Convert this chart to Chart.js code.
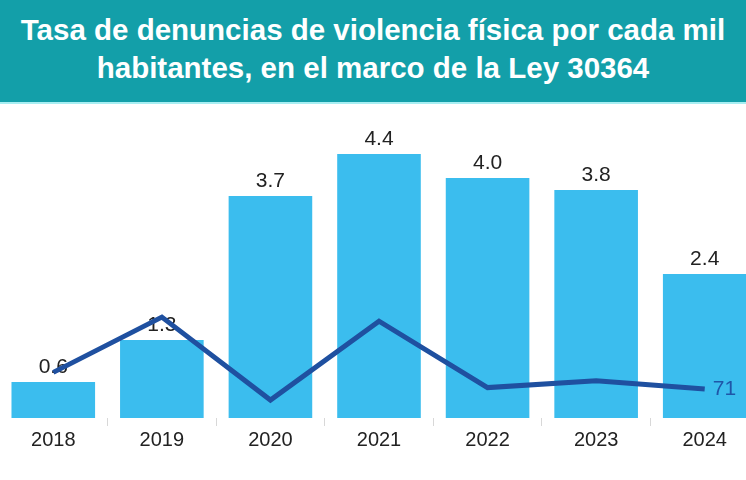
<!DOCTYPE html>
<html>
<head>
<meta charset="utf-8">
<script src="https://cdn.jsdelivr.net/npm/chart.js@4"></script>
<style>
	html, body { margin: 0; padding: 0; width: 746px; height: 480px; overflow: hidden; background: #fff; }
	.banner {
		position: absolute; left: 0; top: 0; width: 746px; height: 104px;
		background: #139fa9; border-bottom: 2px solid #a8eef2;
		color: #fff; font-family: "Liberation Sans", Arial, sans-serif; font-weight: bold;
		font-size: 29.5px; line-height: 38px; text-align: center;
		box-sizing: border-box; padding-top: 11px;
	}
	.wrap { position: absolute; left: -1px; top: 108px; width: 760px; height: 372px; }
</style>
</head>
<body>
<div class="banner">Tasa de denuncias de violencia física por cada mil<br>habitantes, en el marco de la Ley 30364</div>
<div class="wrap"><canvas id="mainChart" width="760" height="372"></canvas></div>
<script>
// 데이터
const years = ['2018', '2019', '2020', '2021', '2022', '2023', '2024'];
const tasa = [0.6, 1.3, 3.7, 4.4, 4.0, 3.8, 2.4];
const linea = [83, 123, 63, 120, 72, 77, 71];

/**
 * 막대 위 값 표시 + 선의 마지막 값 표시
 */
const labelPlugin = {
	id: 'labelPlugin',
	afterDatasetDraw: function(chart, args) {
		const ctx = chart.ctx;
		const meta = args.meta;
		ctx.save();
		ctx.font = '21px "Liberation Sans", Arial, sans-serif';
		if (meta.type === 'bar') {
			ctx.fillStyle = '#222';
			ctx.textAlign = 'center';
			ctx.textBaseline = 'alphabetic';
			meta.data.forEach(function(bar, i) {
				ctx.fillText(tasa[i].toFixed(1), bar.x, bar.y - 9);
			});
		} else {
			const last = meta.data[meta.data.length - 1];
			ctx.fillStyle = '#1f56a8';
			ctx.textAlign = 'left';
			ctx.textBaseline = 'middle';
			ctx.fillText(String(linea[linea.length - 1]), last.x + 8, last.y);
		}
		ctx.restore();
	}
};

function initChart() {
	const ctx = document.getElementById('mainChart').getContext('2d');
	new Chart(ctx, {
		type: 'bar',
		data: {
			labels: years,
			datasets: [{
				type: 'line',
				data: linea,
				yAxisID: 'y2',
				borderColor: '#1f50a0',
				borderWidth: 5,
				pointRadius: 0,
				tension: 0,
				order: 0
			}, {
				data: tasa,
				yAxisID: 'y',
				backgroundColor: '#3bbdee',
				barPercentage: 0.77,
				categoryPercentage: 1,
				order: 1
			}]
		},
		plugins: [labelPlugin],
		options: {
			responsive: false,
			animation: false,
			layout: { padding: { top: 10, left: 0, right: 0, bottom: 26 } },
			scales: {
				x: {
					grid: { drawOnChartArea: false, drawTicks: true, tickLength: 8, color: '#d8d8d8' },
					border: { display: false },
					ticks: { color: '#222', font: { size: 20, family: '"Liberation Sans", Arial, sans-serif' }, padding: 2 }
				},
				y: { display: false, min: 0, max: 5 },
				y2: { display: false, min: 50, max: 267 }
			},
			plugins: {
				legend: { display: false },
				tooltip: { enabled: false }
			}
		}
	});
}

initChart();
</script>
</body>
</html>
